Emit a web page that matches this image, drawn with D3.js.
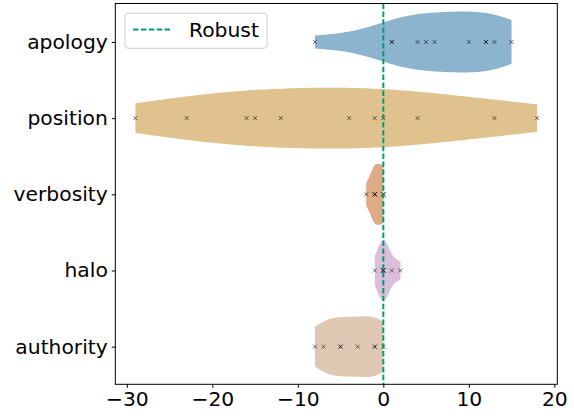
<!DOCTYPE html>
<html>
<head>
<meta charset="utf-8">
<script src="https://cdn.jsdelivr.net/npm/d3@7"></script>
<style>
  body { margin: 0; background: #fff; }
  text { font-family: "DejaVu Sans", sans-serif; }
</style>
</head>
<body>
<svg id="chart"></svg>
<script>
// categories from top to bottom
const categories = ['apology', 'position', 'verbosity', 'halo', 'authority'];

// score changes per category
const apologyValues = [-8, 1, 1, 4, 5, 6, 10, 12, 12, 13, 15];
const positionValues = [-29, -23, -16, -15, -12, -4, -1, 0, 4, 13, 18];
const verbosityValues = [-2, -1, -1, -1, 0, 0, 0];
const haloValues = [-1, 0, 0, 0, 0, 1, 2];
const authorityValues = [-8, -7, -5, -5, -3, -1, -1, 0];

const xTicks = [-30, -20, -10, 0, 10, 20];
const legendLabel = 'Robust';

const fillColors = ['#8db4ce', '#e0c28f', '#dfab86', '#dcbddb', '#dec8b4'];
const robustColor = '#029e73';

(function() {
  const width = 574;
  const height = 416;
  const margin = { left: 115.3, right: 16.7, top: 3.5, bottom: 31.7 };
  const fontSize = '20.3px';

  const series = [apologyValues, positionValues, verbosityValues, haloValues, authorityValues];

  const svg = d3.select('#chart')
    .attr('width', width)
    .attr('height', height);

  const x = d3.scaleLinear()
    .domain([-31.35, 20.35])
    .range([margin.left, width - margin.right]);

  const y = d3.scaleLinear()
    .domain([0.495, 5.494])
    .range([margin.top, height - margin.bottom]);

  // gaussian kde, scott bandwidth like scipy
  function kde(values) {
    const n = values.length;
    const sd = d3.deviation(values);
    const bw = sd * Math.pow(n, -0.2);
    const lo = d3.min(values), hi = d3.max(values);
    const pts = d3.range(100).map(function(i) { return lo + (hi - lo) * i / 99; });
    return pts.map(function(p) {
      const dens = d3.sum(values, function(v) {
        const z = (p - v) / bw;
        return Math.exp(-0.5 * z * z);
      }) / (n * bw * Math.sqrt(2 * Math.PI));
      return [p, dens];
    });
  }

  const halfWidth = 0.4;
  const violins = svg.append('g').attr('class', 'violins');

  series.forEach(function(vals, i) {
    const pos = i + 1;
    const d = kde(vals);
    const maxD = d3.max(d, function(e) { return e[1]; });
    const area = d3.area()
      .x(function(e) { return x(e[0]); })
      .y0(function(e) { return y(pos - e[1] / maxD * halfWidth); })
      .y1(function(e) { return y(pos + e[1] / maxD * halfWidth); });
    violins.append('path')
      .datum(d)
      .attr('d', area)
      .attr('fill', fillColors[i])
      .attr('stroke', 'none');
  });

  // x markers for each observation
  const marks = svg.append('g').attr('class', 'marks');
  series.forEach(function(vals, i) {
    marks.selectAll(null)
      .data(vals)
      .enter()
      .append('path')
      .attr('transform', function(v) {
        return 'translate(' + x(v) + ',' + y(i + 1) + ')';
      })
      .attr('d', 'M-2,-2L2,2M-2,2L2,-2')
      .attr('stroke', '#000')
      .attr('stroke-width', 1)
      .attr('stroke-opacity', 0.55);
  });

  // robust reference line at 0
  svg.append('line')
    .attr('x1', x(0)).attr('x2', x(0))
    .attr('y1', margin.top).attr('y2', height - margin.bottom)
    .attr('stroke', robustColor)
    .attr('stroke-width', 2)
    .attr('stroke-dasharray', '5.5,2.4');

  // frame
  svg.append('rect')
    .attr('x', margin.left)
    .attr('y', margin.top)
    .attr('width', width - margin.left - margin.right)
    .attr('height', height - margin.top - margin.bottom)
    .attr('fill', 'none')
    .attr('stroke', '#000')
    .attr('stroke-width', 1);

  const xAxis = svg.append('g')
    .attr('transform', 'translate(0,' + (height - margin.bottom) + ')')
    .call(d3.axisBottom(x).tickValues(xTicks).tickSize(3.5).tickPadding(4).tickSizeOuter(0));

  const yAxis = svg.append('g')
    .attr('transform', 'translate(' + margin.left + ',0)')
    .call(d3.axisLeft(y).tickValues([1, 2, 3, 4, 5])
      .tickFormat(function(d) { return categories[d - 1]; })
      .tickSize(3.5).tickPadding(4).tickSizeOuter(0));

  [xAxis, yAxis].forEach(function(ax) {
    ax.select('.domain').remove();
    ax.selectAll('text')
      .style('font-family', '"DejaVu Sans", sans-serif')
      .style('font-size', fontSize)
      .attr('fill', '#000');
    ax.selectAll('line').attr('stroke', '#000');
  });

  // legend
  const legend = svg.append('g').attr('class', 'legend');
  legend.append('rect')
    .attr('x', 125).attr('y', 13.3)
    .attr('width', 142).attr('height', 35)
    .attr('rx', 3)
    .attr('fill', '#fff')
    .attr('fill-opacity', 0.8)
    .attr('stroke', '#d0d0d0');
  legend.append('line')
    .attr('x1', 133).attr('x2', 172)
    .attr('y1', 29.5).attr('y2', 29.5)
    .attr('stroke', robustColor)
    .attr('stroke-width', 2)
    .attr('stroke-dasharray', '5.5,2.4');
  legend.append('text')
    .attr('x', 189)
    .attr('y', 36.5)
    .style('font-size', fontSize)
    .text(legendLabel);
})();
</script>
</body>
</html>
